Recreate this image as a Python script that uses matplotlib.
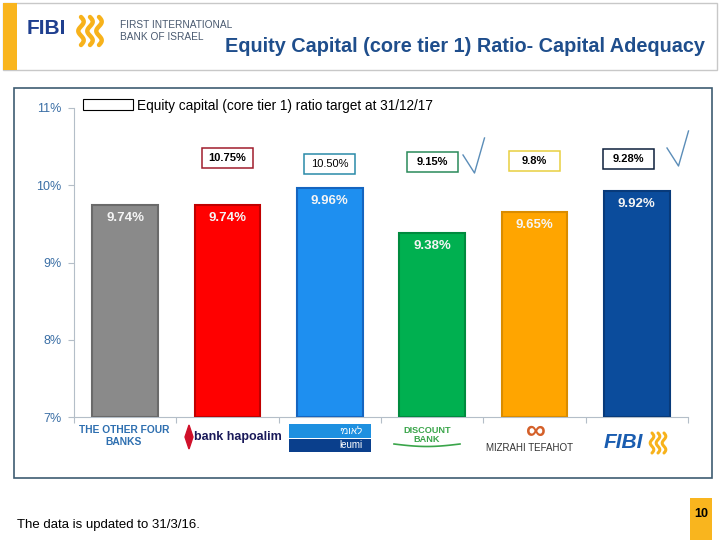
import numpy as np
import matplotlib.pyplot as plt
from matplotlib.patches import Rectangle, Polygon

plt.rcParams['font.family'] = ['Liberation Sans', 'DejaVu Sans']

# data
banks = ["THE OTHER FOUR BANKS", "bank hapoalim", "leumi", "DISCOUNT BANK",
         "MIZRAHI TEFAHOT", "FIBI"]
ratios = [9.74, 9.74, 9.96, 9.38, 9.65, 9.92]
targets = ["10.75%", "10.50%", "9.15%", "9.8%", "9.28%"]
target_of = [1, 2, 3, 4, 5]          # bar index each target box sits above
yticks = [7, 8, 9, 10, 11]

bar_colors = ["#8a8a8a", "#ff0000", "#1e8ff0", "#00b050", "#ffa500", "#0b4c9c"]
bar_edges = ["#6a6a6a", "#c00000", "#1565c0", "#008a3e", "#d98c00", "#083a7a"]
box_edges = ["#a01c2c", "#2a8aa8", "#2a8a5a", "#e8d040", "#0d1f3c"]
target_y = [10.35, 10.27, 10.30, 10.31, 10.34]   # layout only
target_dx = [0, 0, 0, 0, -0.08]

W, H = 720, 540
fig = plt.figure(figsize=(7.2, 5.4), dpi=100)


def px(x, y):
    return x / W, 1 - y / H


def frect(x0, y0, x1, y1, z=1, **kw):
    fig.patches.append(Rectangle(px(x0, y1), (x1 - x0) / W, (y1 - y0) / H,
                                 transform=fig.transFigure, zorder=z, **kw))


def waves(x0, y0, h, w, lw):
    t = np.linspace(0, 1, 60)
    for k in range(3):
        xs = x0 + k * w + 3 * np.sin(t * 3 * np.pi) * w / 10
        ys = y0 + t * h
        fx, fy = px(xs, ys)
        fig.add_artist(plt.Line2D(fx, fy, color="#f7b21b", lw=lw,
                                  solid_capstyle="round"))


# header
frect(3, 3, 717, 70, facecolor="white", edgecolor="#c8c8c8", lw=1)
frect(3, 3, 17, 70, facecolor="#f9b51e", edgecolor="none")
fig.text(*px(27, 29), "FIBI", fontsize=15, fontweight="heavy", color="#1f3f8f",
         va="center", ha="left")
waves(81, 17, 28, 9, 3.2)
fig.text(*px(120, 25), "FIRST INTERNATIONAL", fontsize=7.3, color="#4a5a70",
         va="center")
fig.text(*px(120, 37), "BANK OF ISRAEL", fontsize=7.3, color="#4a5a70",
         va="center")
fig.text(*px(705, 47), "Equity Capital (core tier 1) Ratio- Capital Adequacy",
         fontsize=14.3, fontweight="bold", color="#1f4e8c", ha="right",
         va="center")

# chart frame
frect(14, 88, 712, 478, z=-5, facecolor="white", edgecolor="#3e5c72", lw=1.2)

ax = fig.add_axes([74 / W, 1 - 417 / H, (688 - 74) / W, (417 - 108) / H])
ax.set_zorder(3)
ax.set_facecolor("none")
x = np.arange(len(banks))
ax.bar(x, [r - 7 for r in ratios], bottom=7, width=0.64, color=bar_colors,
       edgecolor=bar_edges, linewidth=1.5, zorder=3)
for xi, r in zip(x, ratios):
    ax.text(xi, r - 0.09, f"{r:.2f}%", ha="center", va="top", color="#f4f4f4",
            fontsize=9.5, fontweight="bold", zorder=4)

ax.set_xlim(-0.5, len(banks) - 0.5)
ax.set_ylim(7, 11)
ax.set_yticks(yticks)
ax.set_yticklabels([f"{v}%" for v in yticks], color="#3a6ea5", fontsize=9)
ax.set_xticks(np.arange(-0.5, len(banks)), minor=False)
ax.set_xticklabels([])
ax.tick_params(axis="x", length=4, color="#b4bec8", direction="out")
ax.tick_params(axis="y", length=4, color="#b4bec8", pad=5)
for s in ["top", "right"]:
    ax.spines[s].set_visible(False)
for s in ["left", "bottom"]:
    ax.spines[s].set_color("#b4bec8")

# target boxes (fixed size, in pixels)
bw, bh = 51, 20
for t, bi, ty, dx, ec in zip(targets, target_of, target_y, target_dx, box_edges):
    fw = "normal" if t == "10.50%" else "bold"
    ax.text(bi + dx, ty, t, ha="center", va="center", fontsize=8, fontweight=fw,
            zorder=6)
    cx, cy = ax.transData.transform((bi + dx, ty))
    cy = H - cy
    frect(cx - bw / 2, cy - bh / 2, cx + bw / 2, cy + bh / 2, z=2,
          facecolor="white", edgecolor=ec, lw=1.1)

# check marks
for cx, cy in [(463, 155), (667, 148)]:
    fx, fy = px(np.array([cx, cx + 11.5, cx + 21.5]),
                np.array([cy, cy + 18, cy - 17]))
    fig.add_artist(plt.Line2D(fx, fy, color="#5b8db8", lw=1))

# legend
frect(83, 99, 133, 110, facecolor="white", edgecolor="black", lw=0.8)
fig.text(*px(137, 106), "Equity capital (core tier 1) ratio target at 31/12/17",
         fontsize=9.8, va="center", ha="left")

# category logos (as text)
fig.text(*px(124, 436), "THE OTHER FOUR\nBANKS", fontsize=7.4,
         fontweight="bold", color="#2e6fb0", ha="center", va="center",
         linespacing=1.15)
fig.patches.append(Polygon([px(189, 425), px(193, 437), px(189, 449),
                            px(185, 437)], closed=True, color="#d0102a",
                           transform=fig.transFigure))
fig.text(*px(238, 437), "bank hapoalim", fontsize=9, fontweight="bold",
         color="#1a1a5a", ha="center", va="center")
frect(289, 424, 371, 438, facecolor="#1e90e0", edgecolor="none")
frect(289, 439, 371, 452, facecolor="#0a3f8c", edgecolor="none")
fig.text(*px(362, 431), "לאומי"[::-1], fontsize=7, color="white", ha="right",
         va="center")
fig.text(*px(362, 445), "leumi", fontsize=7, color="white", ha="right",
         va="center")
fig.text(*px(427, 435), "DISCOUNT\nBANK", fontsize=6.6, fontweight="bold",
         color="#3aa54a", ha="center", va="center", linespacing=0.9)
t = np.linspace(0, 1, 30)
fx, fy = px(394 + 66 * t, 444 + 2.5 * np.sin(t * np.pi))
fig.add_artist(plt.Line2D(fx, fy, color="#3aa54a", lw=1.2))
fig.text(*px(536, 432), "∞", fontsize=20, fontweight="bold", color="#d4602a",
         ha="center", va="center")
fig.text(*px(530, 448), "MIZRAHI TEFAHOT", fontsize=7, color="#333333",
         ha="center", va="center")
fig.text(*px(623, 443), "FIBI", fontsize=15, fontweight="bold", style="italic",
         color="#1a5db0", ha="center", va="center")
waves(652, 433, 20, 6, 2.2)

# footer
fig.text(*px(17, 525), "The data is updated to 31/3/16.", fontsize=9.5,
         va="center", ha="left")
frect(690, 498, 712, 540, facecolor="#f9b51e", edgecolor="none")
fig.text(*px(701, 514), "10", fontsize=9, fontweight="bold", ha="center",
         va="center")

fig.savefig("out.png", dpi=100)
